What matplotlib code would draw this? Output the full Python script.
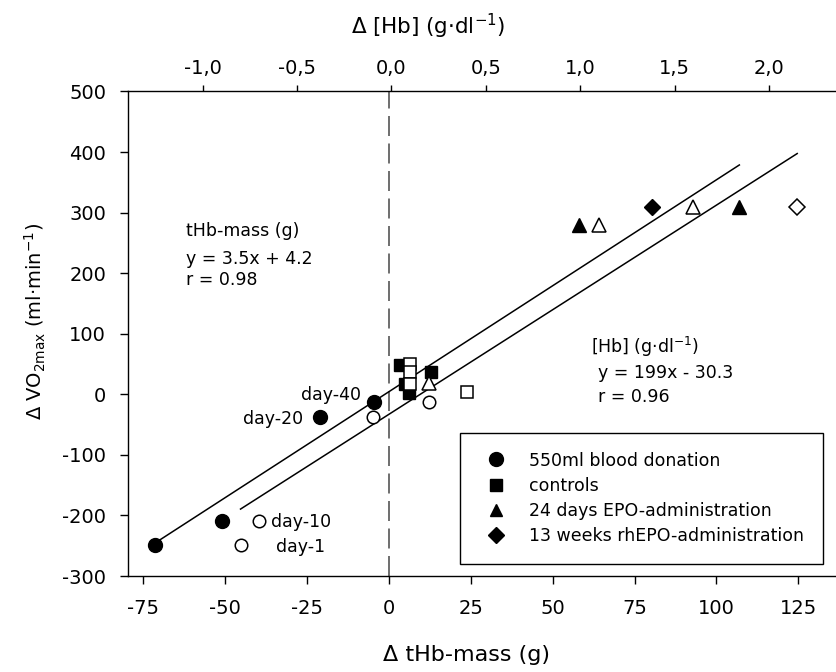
import matplotlib
matplotlib.use("Agg")
import matplotlib.pyplot as plt
from matplotlib.lines import Line2D
import numpy as np

plt.rcParams['font.family'] = ['DejaVu Sans']
plt.rcParams['mathtext.fontset'] = 'dejavusans'
plt.rcParams['axes.unicode_minus'] = False

# ---- data: filled symbols -> delta tHb-mass (g), bottom axis
donation_mass_x = [-71.4, -51.0, -21.0, -4.4]
donation_mass_y = [-248, -210, -38, -12]
controls_mass_x = [3.4, 12.9, 4.9, 6.1]
controls_mass_y = [48, 37, 17, 2]
epo24_mass_x = [58.2, 107.0]
epo24_mass_y = [280, 310]
epo13_mass_x = [80.2]
epo13_mass_y = [309]

# ---- data: open symbols -> delta [Hb] (g/dl), top axis
donation_hb_x = [-0.80, -0.70, -0.10, 0.20]
donation_hb_y = [-248, -210, -38, -12]
controls_hb_x = [0.10, 0.10, 0.10, 0.40]
controls_hb_y = [50, 37, 17, 3]
epo24_hb_x = [0.20, 1.10, 1.60]
epo24_hb_y = [18, 280, 310]
epo13_hb_x = [2.15]
epo13_hb_y = [309]

# regressions
mass_slope, mass_icpt = 3.5, 4.2
mass_range = [-71.4, 107.0]
hb_slope, hb_icpt = 199.0, -30.3
hb_range = [-0.80, 2.15]

xticks_bottom = [-75, -50, -25, 0, 25, 50, 75, 100, 125]
xticks_top = [-1.0, -0.5, 0.0, 0.5, 1.0, 1.5, 2.0]
yticks = [-300, -200, -100, 0, 100, 200, 300, 400, 500]

# mapping of top axis onto bottom axis: x_mass = off + k * hb
off, k = 0.82, 57.6

W, H = 836, 672
fig = plt.figure(figsize=(W / 100, H / 100), dpi=100)
L, R, T, B = 127.7, 836.0, 91.5, 576.0
ax = fig.add_axes([L / W, 1 - B / H, (R - L) / W, (B - T) / H])
xlim = (-79.7, 136.5)
ax.set_xlim(*xlim)
ax.set_ylim(-300, 500)

axt = ax.twiny()
axt.set_xlim((xlim[0] - off) / k, (xlim[1] - off) / k)

for a in (ax, axt):
    a.spines['right'].set_visible(False)
    for s in a.spines.values():
        s.set_linewidth(1.0)
ax.spines['top'].set_visible(False)
axt.spines['bottom'].set_visible(False)
axt.spines['left'].set_visible(False)

fs_tick = 14
ax.set_xticks(xticks_bottom)
ax.set_xticklabels([str(v) for v in xticks_bottom])
ax.set_yticks(yticks)
ax.tick_params(axis='both', direction='out', length=5.5, width=1, labelsize=fs_tick)
ax.tick_params(axis='x', pad=11)
ax.tick_params(axis='y', pad=10)
axt.set_xticks(xticks_top)
axt.set_xticklabels([f"{v:.1f}".replace('.', ',') for v in xticks_top])
axt.tick_params(axis='x', direction='out', length=4, width=1, labelsize=fs_tick, pad=6)

def ftext(x, y, s, **kw):
    fig.text(x / W, 1 - y / H, s, **kw)

# axis titles
ftext(466.5, 655, 'Δ tHb-mass (g)', ha='center', va='center', fontsize=16)
ftext(428, 26, r'Δ [Hb] (g·dl$^{-1}$)', ha='center', va='center', fontsize=15.5)
ftext(35, 321, r'Δ VO$_{\mathrm{2max}}$ (ml·min$^{-1}$)', ha='center', va='center',
      fontsize=14, rotation=90)

# dashed zero line
ax.axvline(0, color='#555555', lw=1.2, ls=(0, (12, 4.5)), zorder=1)

# regression lines
mx = np.array(mass_range)
ax.plot(mx, mass_slope * mx + mass_icpt, color='black', lw=1.1, zorder=2)
hx = np.array(hb_range)
axt.plot(hx, hb_slope * hx + hb_icpt, color='black', lw=1.1, zorder=2)

ms_c, ms_s, ms_t, ms_d = 10, 8, 9.5, 8.5
kw_f = dict(ls='none', color='black', zorder=4)
ax.plot(donation_mass_x, donation_mass_y, marker='o', ms=ms_c, **kw_f)
ax.plot(controls_mass_x, controls_mass_y, marker='s', ms=ms_s, **kw_f)
ax.plot(epo24_mass_x, epo24_mass_y, marker='^', ms=ms_t, **kw_f)
ax.plot(epo13_mass_x, epo13_mass_y, marker='D', ms=ms_d, **kw_f)

kw_o = dict(ls='none', mfc='white', mec='black', mew=1.1, zorder=5)
axt.plot(donation_hb_x, donation_hb_y, marker='o', ms=9, **kw_o)
axt.plot(controls_hb_x, controls_hb_y, marker='s', ms=ms_s, **kw_o)
axt.plot(epo24_hb_x, epo24_hb_y, marker='^', ms=ms_t, **kw_o)
axt.plot(epo13_hb_x, epo13_hb_y, marker='D', ms=ms_d, **kw_o)

# annotations
fs_ann = 12.5
ftext(361, 395, 'day-40', ha='right', va='center', fontsize=fs_ann)
ftext(303, 419, 'day-20', ha='right', va='center', fontsize=fs_ann)
ftext(271, 522, 'day-10', ha='left', va='center', fontsize=fs_ann)
ftext(276, 547, 'day-1', ha='left', va='center', fontsize=fs_ann)

fs_eq = 12.5
ftext(186, 231, 'tHb-mass (g)', ha='left', va='center', fontsize=fs_eq)
ftext(186, 259, 'y = 3.5x + 4.2', ha='left', va='center', fontsize=fs_eq)
ftext(186, 280, 'r = 0.98', ha='left', va='center', fontsize=fs_eq)

ftext(591, 347, r'[Hb] (g·dl$^{-1}$)', ha='left', va='center', fontsize=fs_eq)
ftext(598, 373, 'y = 199x - 30.3', ha='left', va='center', fontsize=fs_eq)
ftext(598, 397, 'r = 0.96', ha='left', va='center', fontsize=fs_eq)

# legend
handles = [
    Line2D([], [], ls='none', marker='o', color='black', ms=10),
    Line2D([], [], ls='none', marker='s', color='black', ms=8),
    Line2D([], [], ls='none', marker='^', color='black', ms=9),
    Line2D([], [], ls='none', marker='D', color='black', ms=8),
]
labels = ['550ml blood donation', 'controls', '24 days EPO-administration',
          '13 weeks rhEPO-administration']
leg = ax.legend(handles, labels, loc='upper left',
                bbox_to_anchor=((460 - L) / (R - L), (B - 433.3) / (B - T)),
                fontsize=12.5, frameon=True, fancybox=False, framealpha=1,
                edgecolor='black', borderpad=1.05, labelspacing=0.42,
                handlelength=2.1, handletextpad=0.85, borderaxespad=0)
leg.get_frame().set_linewidth(1.0)
leg.set_zorder(6)

fig.savefig('out.png', dpi=100)
